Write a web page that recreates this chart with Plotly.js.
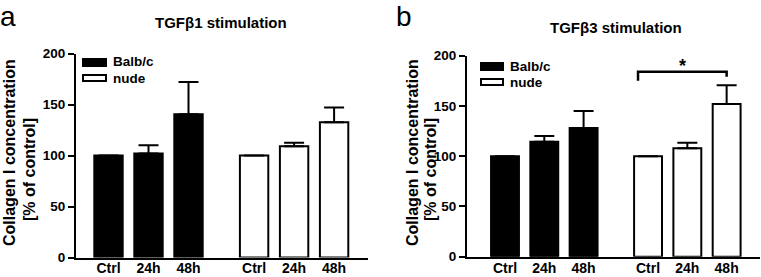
<!DOCTYPE html>
<html>
<head>
<meta charset="utf-8">
<script src="https://cdn.plot.ly/plotly-3.0.1.min.js"></script>
<style>
html,body{margin:0;padding:0;background:#fff;}
#chart{width:761px;height:277px;}
</style>
</head>
<body>
<div id="chart"></div>
<script>
// ---- data ----
var categories = ["Ctrl", "24h", "48h"];
var groups = ["Balb/c", "nude"];
// Panel a: TGFβ1 stimulation
var a_balb = [100, 102, 140.5];
var a_balb_err = [0, 8, 31.5];
var a_nude = [100, 109, 132.5];
var a_nude_err = [0, 3.5, 14.5];
// Panel b: TGFβ3 stimulation
var b_balb = [100, 114.5, 128];
var b_balb_err = [0, 5.5, 17];
var b_nude = [100, 108, 152];
var b_nude_err = [0, 5.5, 18.5];
var yTicks = [0, 50, 100, 150, 200];
var titleA = "TGFβ1 stimulation";
var titleB = "TGFβ3 stimulation";
var yTitle1 = "Collagen I concentration";
var yTitle2 = "[% of control]";

// ---- layout helpers ----
var GROUP_OFFSET = 3.64;
function pos(g, i) { return g * GROUP_OFFSET + i; }
var xs0 = categories.map(function (c, i) { return pos(0, i); });
var xs1 = categories.map(function (c, i) { return pos(1, i); });
var allX = xs0.concat(xs1);
var allText = categories.concat(categories);
var FONT = "Liberation Sans, Arial, sans-serif";
var BW = 0.71;

function barTrace(xs, ys, errs, fill, xa, ya) {
  return {
    type: "bar", x: xs, y: ys, width: BW,
    xaxis: xa, yaxis: ya, showlegend: false,
    marker: { color: fill, line: { color: "#000", width: 2 } },
    error_y: { type: "data", symmetric: false, array: errs,
      arrayminus: errs.map(function () { return 0; }),
      color: "#000", thickness: 2, width: 10 },
    hoverinfo: "skip"
  };
}

var data = [
  barTrace(xs0, a_balb, a_balb_err, "#000", "x", "y"),
  barTrace(xs1, a_nude, a_nude_err, "#fff", "x", "y"),
  barTrace(xs0, b_balb, b_balb_err, "#000", "x2", "y2"),
  barTrace(xs1, b_nude, b_nude_err, "#fff", "x2", "y2")
];

var W = 761, H = 277;
function px(x) { return x / W; }
function py(y) { return 1 - y / H; }

function xaxis(domain, range) {
  return {
    domain: domain, range: range, fixedrange: true,
    showline: true, linecolor: "#000", linewidth: 2,
    showgrid: false, zeroline: false, ticks: "",
    ticklabelstandoff: -3,
    tickmode: "array", tickvals: allX, ticktext: allText,
    tickfont: { family: FONT, size: 14, color: "#000", weight: "bold" }
  };
}
function yaxis(domain, anchor) {
  return {
    domain: domain, range: [0, 200], anchor: anchor, fixedrange: true,
    showline: true, linecolor: "#000", linewidth: 2,
    showgrid: false, zeroline: false,
    ticks: "outside", ticklen: 6, tickwidth: 2, tickcolor: "#000",
    tickmode: "array", tickvals: yTicks,
    tickfont: { family: FONT, size: 13.5, color: "#000", weight: "bold" }
  };
}

var annotations = [];
function txt(x, y, text, size, bold, angle) {
  annotations.push({
    xref: "paper", yref: "paper", x: px(x), y: py(y), text: text,
    showarrow: false, xanchor: "center", yanchor: "middle",
    textangle: angle || 0,
    font: { family: FONT, size: size, color: "#000", weight: bold ? "bold" : "normal" }
  });
}
function ltxt(x, y, text, size) {
  annotations.push({
    xref: "paper", yref: "paper", x: px(x), y: py(y), text: text,
    showarrow: false, xanchor: "left", yanchor: "middle",
    font: { family: FONT, size: size, color: "#000", weight: "bold" }
  });
}

// panel letters
txt(8, 16, "a", 28, false);
txt(404, 16, "b", 28, false);
// titles
txt(221, 23, titleA, 15, true);
txt(616, 27, titleB, 15, true);
// y titles
txt(9, 153, yTitle1, 16, true, -90);
txt(29, 170, yTitle2, 16, true, -90);
txt(412, 153, yTitle1, 16, true, -90);
txt(430, 170, yTitle2, 16, true, -90);
// legends
var shapes = [];
function swatch(x0, y0, x1, y1, fill) {
  shapes.push({ type: "rect", xref: "paper", yref: "paper",
    x0: px(x0), x1: px(x1), y0: py(y1), y1: py(y0),
    fillcolor: fill, line: { color: "#000", width: 2 } });
}
swatch(83, 59, 106, 66, "#000");
swatch(83, 75, 106, 81, "#fff");
ltxt(111, 62, groups[0], 13.5);
ltxt(111, 78, groups[1], 13.5);
swatch(481, 63, 503, 70, "#000");
swatch(481, 79, 503, 85, "#fff");
ltxt(508, 66, groups[0], 13.5);
ltxt(508, 82, groups[1], 13.5);

// significance bracket in panel b (nude Ctrl vs nude 48h)
var bx0 = xs1[0] - BW / 2 + 0.1, bx1 = xs1[2];
shapes.push({ type: "path", xref: "x2", yref: "y2",
  path: "M" + bx0 + ",175 L" + bx0 + ",184 L" + bx1 + ",184 L" + bx1 + ",179",
  line: { color: "#000", width: 2.5 } });
annotations.push({ xref: "x2", yref: "y2", x: (bx0 + bx1) / 2, y: 190,
  text: "*", showarrow: false, yanchor: "middle",
  font: { family: FONT, size: 18, color: "#000", weight: "bold" } });

var layout = {
  width: W, height: H,
  margin: { l: 0, r: 0, t: 0, b: 0 },
  paper_bgcolor: "#fff", plot_bgcolor: "rgba(0,0,0,0)",
  showlegend: false,
  bargap: 0,
  xaxis: xaxis([px(76), px(368)], [-0.8125, 6.4875]),
  yaxis: yaxis([1 - 257.5 / H, 1 - 53.5 / H], "x"),
  xaxis2: xaxis([px(467), px(760)], [-0.967, 6.489]),
  yaxis2: yaxis([1 - 256.7 / H, 1 - 55.7 / H], "x2"),
  annotations: annotations,
  shapes: shapes
};
layout.xaxis.anchor = "y";
layout.xaxis2.anchor = "y2";

Plotly.newPlot("chart", data, layout, { displayModeBar: false, staticPlot: true });
</script>
</body>
</html>
